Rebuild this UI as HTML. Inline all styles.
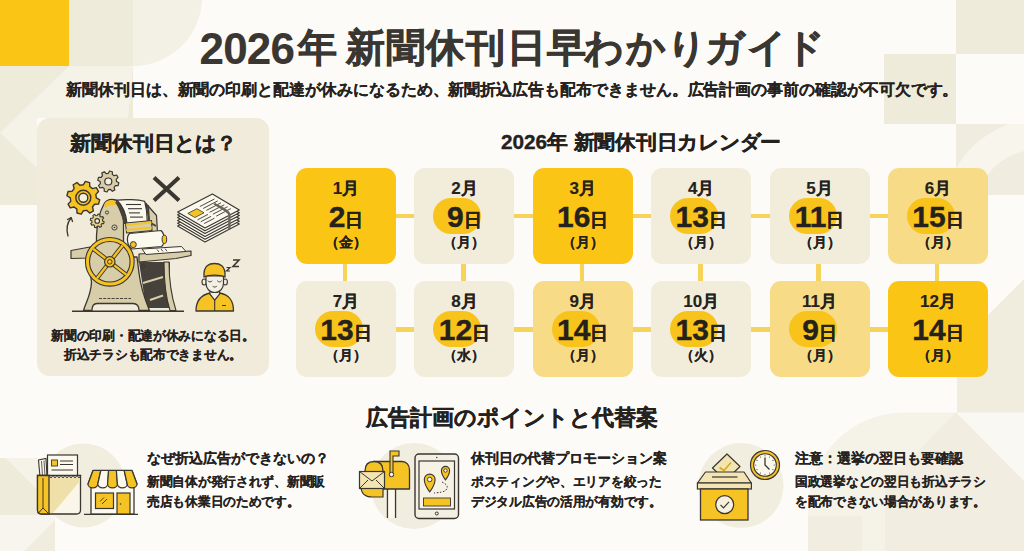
<!DOCTYPE html>
<html lang="ja">
<head>
<meta charset="utf-8">
<style>
html,body{margin:0;padding:0;}
body{width:1024px;height:551px;position:relative;overflow:hidden;background:#FCFBF7;font-family:"Liberation Sans",sans-serif;color:#25211d;font-weight:bold;}
.a,.t .d{-webkit-text-stroke:0.35px currentColor;}
.t .m,.t .w{-webkit-text-stroke:0.15px currentColor;}
.sm{-webkit-text-stroke:0.1px currentColor !important;}
.a{position:absolute;white-space:nowrap;}
.bg{position:absolute;left:0;top:0;}
.t{position:absolute;width:100px;height:96px;border-radius:11px;}
.t.s{background:#FAC515;}
.t.b{background:#F2EDDB;}
.t.l{background:#F7DB86;}
.blob{position:absolute;left:19px;top:30px;width:48px;height:36px;border-radius:18px;background:#F8C41C;}
.m{position:absolute;left:0;width:100px;text-align:center;top:12px;font-size:17px;line-height:17px;}
.d{position:absolute;left:0;width:100px;text-align:center;top:34px;font-size:30px;line-height:30px;}
.d span{font-size:18px;vertical-align:1.5px;}
.w{position:absolute;left:0;width:100px;text-align:center;top:67px;font-size:14px;line-height:14px;}
.hl{position:absolute;background:#F6D35A;height:4.5px;}
.vl{position:absolute;background:#F6D35A;width:4.5px;}
</style>
</head>
<body>
<!-- background decorations -->
<svg class="bg" width="1024" height="551" viewBox="0 0 1024 551">
  <rect x="0" y="0" width="69" height="66" fill="#FAC515"/>
  <rect x="69" y="0" width="64" height="66" fill="#EFEBDB"/>
  <path d="M133 0 L202 0 A69 69 0 0 1 133 66 Z" fill="#F3F0E5"/>
  <path d="M0 66 L133 66 L133 118 L37 118 L37 205 L0 205 Z" fill="#EFEBDB"/>
  <path d="M69 66 L133 66 L128 118 L37 118 L37 168 L0 133 Z" fill="#F5F2E8"/>
  <rect x="956" y="0" width="68" height="54" fill="#EFEBDB"/>
  <rect x="884" y="54" width="72" height="70" fill="#EFEBDB"/>
  <clipPath id="cc"><rect x="956" y="124" width="68" height="71"/></clipPath>
  <g clip-path="url(#cc)"><rect x="956" y="124" width="68" height="71" fill="#F0ECDF"/><circle cx="1040" cy="215" r="96" fill="#F7F5EC"/><circle cx="1040" cy="215" r="66" fill="#F0ECDF"/></g>
  <path d="M1024 279 L957 346 L957 413 L1024 413 Z" fill="#F0ECDE"/>
  
  <path d="M808 551 L808 508 A96 96 0 0 1 904 412.6 L1024 412.6 L1024 551 Z" fill="#F5F2E8"/>
  <path d="M956 412.6 L1024 412.6 L1024 481 Z" fill="#FAF8F2"/>
  <path d="M956 412.6 L1024 481 L1024 551 L885 551 L885 484 Z" fill="#F1EDE0"/>
  <rect x="808" y="516" width="54" height="35" fill="#F1EDE0"/>
  <path d="M0 458 L6 458 L55 507 L55 515 L0 515 Z" fill="#EFEBDB"/><path d="M6 458 L55 458 L55 507 Z" fill="#F5F2E8"/>
  <path d="M0 515 L55 515 L55 520 L24 551 L0 551 Z" fill="#F7F5EE"/><path d="M24 551 L55 520 L55 551 Z" fill="#F0ECDE"/>
</svg>

<div class="a" id="t1" style="-webkit-text-stroke:0.1px currentColor;left:199.5px;top:26.5px;font-size:44px;line-height:44px;color:#3A3631;letter-spacing:-0.8px">2026</div><div class="a" id="t1b" style="-webkit-text-stroke:0.6px #3A3631;left:297.5px;top:28px;font-size:39px;line-height:39px;color:#3A3631;">年</div><div class="a" id="t2" style="-webkit-text-stroke:0.6px #3A3631;left:345.5px;top:28px;font-size:39px;line-height:39px;color:#3A3631;letter-spacing:1.3px">新聞休刊日早<span style="margin-left:-3px">わかり</span><span style="margin-left:-3px">ガイ</span><span style="margin-left:-3px">ド</span></div>
<div class="a sm" style="-webkit-text-stroke:0.1px currentColor !important;left:66px;top:82px;font-size:16px;line-height:16px;transform:scaleX(0.996);transform-origin:0 0;color:#25211d">新聞休刊日は、新聞の印刷と配達が休みになるため、新聞折込広告も配布できません。広告計画の事前の確認が不可欠です。</div>

<!-- left card -->
<div class="a" style="left:37px;top:118px;width:232px;height:258px;border-radius:13px;background:#F0EBDA"></div>
<div class="a" style="left:70px;top:133px;font-size:20px;line-height:20px;transform:scaleX(1.045);transform-origin:0 0">新聞休刊日とは？</div>
<div class="a sm" style="left:37px;top:326px;width:232px;text-align:center;font-size:13px;line-height:19px;transform:scaleX(0.978);transform-origin:50% 0">新聞の印刷・配達が休みになる日。<br>折込チラシも配布できません。</div>

<svg class="bg" width="1024" height="551" viewBox="0 0 1024 551" style="z-index:1"><path d="M96.30 197.80 L99.67 199.87 L98.54 204.11 L94.59 204.24 L92.49 206.99 L93.41 210.84 L89.61 213.04 L86.73 210.34 L83.30 210.80 L81.23 214.17 L76.99 213.04 L76.86 209.09 L74.11 206.99 L70.26 207.91 L68.06 204.11 L70.76 201.23 L70.30 197.80 L66.93 195.73 L68.06 191.49 L72.01 191.36 L74.11 188.61 L73.19 184.76 L76.99 182.56 L79.87 185.26 L83.30 184.80 L85.37 181.43 L89.61 182.56 L89.74 186.51 L92.49 188.61 L96.34 187.69 L98.54 191.49 L95.84 194.37 Z" fill="#F6C324" stroke="#3A3630" stroke-width="1.4" stroke-linejoin="round"/><circle cx="83.3" cy="197.8" r="7.5" fill="none" stroke="#3A3630" stroke-width="1.4"/><circle cx="83.3" cy="197.8" r="4.5" fill="#F3EFE3" stroke="#3A3630" stroke-width="1.4"/><path d="M116.50 181.50 L118.82 182.83 L118.09 185.56 L115.42 185.56 L114.10 187.30 L114.80 189.88 L112.36 191.29 L110.46 189.41 L108.30 189.70 L106.97 192.02 L104.24 191.29 L104.24 188.62 L102.50 187.30 L99.92 188.00 L98.51 185.56 L100.39 183.66 L100.10 181.50 L97.78 180.17 L98.51 177.44 L101.18 177.44 L102.50 175.70 L101.80 173.12 L104.24 171.71 L106.14 173.59 L108.30 173.30 L109.63 170.98 L112.36 171.71 L112.36 174.38 L114.10 175.70 L116.68 175.00 L118.09 177.44 L116.21 179.34 Z" fill="#D8CDA9" stroke="#3A3630" stroke-width="1.2" stroke-linejoin="round"/><circle cx="108.3" cy="181.5" r="3.5" fill="#F3EFE3" stroke="#3A3630" stroke-width="1.2"/><path d="M68 236 C66 229 67 223 71 218" fill="none" stroke="#3A3630" stroke-width="1.3" stroke-linecap="round"/><path d="M67.5 219.5 L71.2 217.6 L72.5 221.5" fill="none" stroke="#3A3630" stroke-width="1.3" stroke-linecap="round" stroke-linejoin="round"/><path d="M154 177.5 L179 200.5 M179 177.5 L154 200.5" stroke="#3A3630" stroke-width="4" stroke-linecap="butt"/><path d="M177.6 226.0 L212.4 208.0 L239.3 224.0 L205.0 242.0 Z" fill="#FBF8EE" stroke="#3A3630" stroke-width="1.15" stroke-linejoin="round"/><path d="M177.6 223.2 L212.4 205.2 L239.3 221.2 L205.0 239.2 Z" fill="#FBF8EE" stroke="#3A3630" stroke-width="1.15" stroke-linejoin="round"/><path d="M177.6 220.4 L212.4 202.4 L239.3 218.4 L205.0 236.4 Z" fill="#FBF8EE" stroke="#3A3630" stroke-width="1.15" stroke-linejoin="round"/><path d="M177.6 217.6 L212.4 199.6 L239.3 215.6 L205.0 233.6 Z" fill="#FBF8EE" stroke="#3A3630" stroke-width="1.15" stroke-linejoin="round"/><path d="M177.6 214.8 L212.4 196.8 L239.3 212.8 L205.0 230.8 Z" fill="#FBF8EE" stroke="#3A3630" stroke-width="1.15" stroke-linejoin="round"/><path d="M177.6 212.0 L212.4 194.0 L239.3 210.0 L205.0 228.0 Z" fill="#FBF8EE" stroke="#3A3630" stroke-width="1.15" stroke-linejoin="round"/><path d="M187.8 213.4 L196.9 208.7 L204.0 212.8 L194.9 217.5 Z" fill="#F6C324" stroke="#3A3630" stroke-width="0.8"/><path d="M199.8 206.6 L214.4 199.0" stroke="#3A3630" stroke-width="0.9"/><path d="M203.1 208.5 L217.7 200.9" stroke="#3A3630" stroke-width="0.9"/><path d="M206.4 210.4 L221.0 202.8" stroke="#3A3630" stroke-width="0.9"/><path d="M209.6 212.3 L224.3 204.8" stroke="#3A3630" stroke-width="0.9"/><path d="M212.9 214.2 L227.6 206.7" stroke="#3A3630" stroke-width="0.9"/><path d="M216.2 216.2 L230.8 208.6" stroke="#3A3630" stroke-width="0.9"/><path d="M197.5 219.8 L208.0 214.4" stroke="#3A3630" stroke-width="0.9"/><path d="M200.8 221.7 L211.2 216.3" stroke="#3A3630" stroke-width="0.9"/><path d="M204.1 223.6 L214.5 218.2" stroke="#3A3630" stroke-width="0.9"/><path d="M214.3 203.6 C218.3 206.6 230.4 211.4 229.4 215.4 L229.4 229.4" fill="none" stroke="#6b655c" stroke-width="2.4"/><path d="M139 262 L170 262 L170 308 L146 308 Z" fill="#46413A"/><path d="M143 283 L163 277 M150 300 L163 295.5" stroke="#D8CDA9" stroke-width="2.2"/><path d="M164 262 L169 262 C169 280 172 298 176 310.5 L170 310.5 C166 298 164 280 164 262 Z" fill="#D8CDA9" stroke="#3A3630" stroke-width="1.1" stroke-linejoin="round"/><path d="M88 257 L137 257 L139 273 C141 290 146 302 149.5 310.5 L139 310.5 C139 306 137 303.5 133 303.5 L97 303.5 C93 303.5 92 306 92 310.5 L83.5 310.5 C86 302 91 295 91.5 282 Z" fill="#D8CDA9" stroke="#3A3630" stroke-width="1.3" stroke-linejoin="round"/><path d="M99 298.5 L131 298.5" stroke="#3A3630" stroke-width="0.9" stroke-dasharray="3 1.2"/><circle cx="143" cy="266.5" r="1.8" fill="none" stroke="#3A3630" stroke-width="0.9"/><path d="M96.5 257 L96.5 236 C97 222 100 211 104 204 C106 200.5 108 199.5 112 199.5 L116 200 L123.5 219 L123.5 257 Z" fill="#D8CDA9" stroke="#3A3630" stroke-width="1.3" stroke-linejoin="round"/><path d="M104.5 204 C106 201 108 200 113 200 L118 205 C112 205 108 205.5 105 208 Z" fill="#F6C324"/><circle cx="107" cy="212.5" r="1.6" fill="none" stroke="#3A3630" stroke-width="0.9"/><circle cx="114.5" cy="227.5" r="2.6" fill="none" stroke="#3A3630" stroke-width="0.9"/><circle cx="114.5" cy="227.5" r="0.8" fill="#3A3630"/><path d="M115 202 L128 203 L128 224 L123.5 224 L121 212 Z" fill="#46413A"/><path d="M145.5 203 L156.5 215.5 L157.5 233 L150 233 L149 218 Z" fill="#D8CDA9" stroke="#3A3630" stroke-width="1.2" stroke-linejoin="round"/><path d="M148 205 L149 222 L156 226" fill="none" stroke="#46413A" stroke-width="2"/><path d="M117 200.2 C125 199 138 199.5 144.7 201.4 C146.5 208 147.3 215 147.3 221.8 L127 223.5 C126 213 122 205 117 200.2 Z" fill="#FBF8EE" stroke="#3A3630" stroke-width="1.2"/><path d="M126 204.5 L141 204.5" stroke="#3A3630" stroke-width="1.1"/><path d="M128 208.7 L142 208.7" stroke="#3A3630" stroke-width="1.1"/><path d="M129 212.9 L140 212.9" stroke="#3A3630" stroke-width="1.1"/><path d="M130 217.1 L143 217.1" stroke="#3A3630" stroke-width="1.1"/><path d="M125.5 223 L151.5 220.5 L152 230.5 L126.5 233 Z" fill="#D8CDA9" stroke="#3A3630" stroke-width="1.1"/><path d="M126 225 L151.5 222.5 M126.3 230 L151.8 227.5" stroke="#F6C324" stroke-width="2"/><path d="M129.5 233.5 L161 230.5 C165 234 165.5 243 161.5 246.5 L132 249 C127 246 126 237 129.5 233.5 Z" fill="#FBF8EE" stroke="#3A3630" stroke-width="1.2"/><ellipse cx="164.4" cy="239.3" rx="2.3" ry="4.2" fill="#F6C324" stroke="#3A3630" stroke-width="1"/><ellipse cx="133.3" cy="244.6" rx="3" ry="3" fill="#F6C324" stroke="#3A3630" stroke-width="1"/><path d="M71 250.5 L90 247 L90 258 L71 258.5 Z" fill="#D8CDA9" stroke="#3A3630" stroke-width="1.2" stroke-linejoin="round"/><path d="M139 254 L191 251 L191 255.5 L176 258.5 L139 262 Z" fill="#D8CDA9" stroke="#3A3630" stroke-width="1.2" stroke-linejoin="round"/><path d="M142 249 L181.5 246.5 L186 251.5 L146 254.5 Z" fill="#FBF8EE" stroke="#3A3630" stroke-width="1"/><path d="M157 249.5 L159 252 M161 249 L163 251.5 M165 248.7 L167 251.2" stroke="#3A3630" stroke-width="0.9"/><circle cx="109.8" cy="261.8" r="22.3" fill="#D8CDA9" stroke="#3A3630" stroke-width="5.2"/><circle cx="109.8" cy="261.8" r="22.3" fill="none" stroke="#F6C324" stroke-width="3.0"/><path d="M93.4 249.0 L126.2 274.6" stroke="#3A3630" stroke-width="4.2"/><path d="M122.6 245.4 L97.0 278.2" stroke="#3A3630" stroke-width="4.2"/><path d="M93.4 249.0 L126.2 274.6" stroke="#F6C324" stroke-width="2.4"/><path d="M122.6 245.4 L97.0 278.2" stroke="#F6C324" stroke-width="2.4"/><circle cx="109.8" cy="261.8" r="5.2" fill="#F6C324" stroke="#3A3630" stroke-width="1.2"/><circle cx="109.8" cy="261.8" r="2.3" fill="none" stroke="#3A3630" stroke-width="1"/><path d="M102.60 220.90 L104.14 221.78 L103.67 223.58 L101.89 223.58 L101.02 224.72 L101.49 226.43 L99.88 227.37 L98.62 226.11 L97.20 226.30 L96.32 227.84 L94.52 227.37 L94.52 225.59 L93.38 224.72 L91.67 225.19 L90.73 223.58 L91.99 222.32 L91.80 220.90 L90.26 220.02 L90.73 218.22 L92.51 218.22 L93.38 217.08 L92.91 215.37 L94.52 214.43 L95.78 215.69 L97.20 215.50 L98.08 213.96 L99.88 214.43 L99.88 216.21 L101.02 217.08 L102.73 216.61 L103.67 218.22 L102.41 219.48 Z" fill="#E3CF8E" stroke="#3A3630" stroke-width="1.1" stroke-linejoin="round"/><circle cx="97.2" cy="220.9" r="2.3" fill="#F3EFE3" stroke="#3A3630" stroke-width="1.1"/><path d="M72 311.2 L184 311.2" stroke="#3A3630" stroke-width="1.4"/><path d="M196 311 C196 300 201 295 210 293 L220 293 C229 295 233.5 300 233.5 311 Z" fill="#F6C324" stroke="#3A3630" stroke-width="1.3" stroke-linejoin="round"/><path d="M209 293 L214.7 300 L220.5 293 M214.7 300 L214.7 311 M222 305.5 L226 305.5" fill="none" stroke="#3A3630" stroke-width="1.1"/><path d="M210 289 L210 294 L214.7 300 L219.5 294 L219.5 289 Z" fill="#F3EFE3" stroke="#3A3630" stroke-width="1.1"/><ellipse cx="204.2" cy="282" rx="2.2" ry="3" fill="#F3EFE3" stroke="#3A3630" stroke-width="1.1"/><ellipse cx="225.2" cy="282" rx="2.2" ry="3" fill="#F3EFE3" stroke="#3A3630" stroke-width="1.1"/><path d="M206 276 L206 283 C206 289 210 292.5 214.7 292.5 C219.5 292.5 223.5 289 223.5 283 L223.5 276 Z" fill="#F3EFE3" stroke="#3A3630" stroke-width="1.2"/><path d="M204 277 C203 265 210 263.5 214.5 263.5 C219 263.5 226 265 225 277 C220 274.5 209 274.5 204 277 Z" fill="#F6C324" stroke="#3A3630" stroke-width="1.3" stroke-linejoin="round"/><path d="M208 281 C209 282.3 211 282.3 212 281 M217.5 281 C218.5 282.3 220.5 282.3 221.5 281 M213 286.5 C214 287.3 215.5 287.3 216.5 286.5" fill="none" stroke="#3A3630" stroke-width="0.9" stroke-linecap="round"/><path d="M226.5 267.5 L230 267.5 L226.5 271 L230 271" fill="none" stroke="#3A3630" stroke-width="1.2"/><path d="M233 260 L239 260 L233 266.5 L239 266.5" fill="none" stroke="#3A3630" stroke-width="1.6"/><circle cx="83.5" cy="485.4" r="42" fill="#F1EDDF"/><circle cx="414" cy="486" r="43" fill="#F1EDDF"/><circle cx="741" cy="485.5" r="42.5" fill="#F1EDDF"/><path d="M38.5 460 L46 458.5 L47 477 L40 477 Z" fill="#FBF8EE" stroke="#3A3630" stroke-width="1.1"/><path d="M41.5 461 L42.5 476 M44 460.5 L45 476" stroke="#3A3630" stroke-width="0.8"/><rect x="47.5" y="455" width="30" height="23" fill="#FBF8EE" stroke="#3A3630" stroke-width="1.2"/><rect x="51.5" y="460" width="6" height="6" fill="#F6C324" stroke="#3A3630" stroke-width="0.9"/><path d="M60 461 L73 461 M60 464.5 L73 464.5 M51.5 470 L73 470" stroke="#3A3630" stroke-width="1"/><path d="M37.5 475.5 L80.5 475.5 L80.5 510 C80.5 512.5 79 514 76.5 514 L41.5 514 C39 514 37.5 512.5 37.5 510 Z" fill="#FAF6EA" stroke="#3A3630" stroke-width="1.3"/><path d="M49 477 L80 477 L80 481 L53 513 L49 513 Z" fill="#EFDFA8"/><path d="M49 475.5 L51.0 478 L53.0 475.5 L55.0 478 L57.0 475.5 L59.0 478 L61.0 475.5 L63.0 478 L65.0 475.5 L67.0 478 L69.0 475.5 L71.0 478 L73.0 475.5 L75.0 478 L77.0 475.5 L79.0 478 L81.0 475.5" fill="none" stroke="#3A3630" stroke-width="0.9"/><path d="M37.5 475.5 L49 475.5 L49 514 L41.5 514 C39 514 37.5 512.5 37.5 510 Z" fill="#F6C324" stroke="#3A3630" stroke-width="1.3"/><path d="M43 478 L43 508 M38.5 513 L43 508 L48 513" fill="none" stroke="#3A3630" stroke-width="1"/><path d="M84 514.3 L138 514.3" stroke="#3A3630" stroke-width="1.3"/><rect x="91" y="484" width="43" height="30" fill="#FBF8EE" stroke="#3A3630" stroke-width="1.3"/><rect x="95.5" y="493" width="18" height="15.5" fill="#F6C324" stroke="#3A3630" stroke-width="1.2"/><path d="M100 501.5 L104 497.5 M102 504 L107 499" stroke="#3A3630" stroke-width="0.9"/><rect x="117" y="493" width="13" height="21" fill="#F6C324" stroke="#3A3630" stroke-width="1.2"/><circle cx="120.5" cy="504" r="0.8" fill="#3A3630"/><path d="M93 470.5 L132 470.5 L137 484 L88 484 Z" fill="#FBF8EE" stroke="#3A3630" stroke-width="1.3" stroke-linejoin="round"/><path d="M93 470.5 L100.8 470.5 L97.8 484 A4.90 3.92 0 0 1 88 484 Z" fill="#F6C324" stroke="#3A3630" stroke-width="1.2" stroke-linejoin="round"/><path d="M100.8 470.5 L108.6 470.5 L107.6 484 A4.90 3.92 0 0 1 97.8 484 Z" fill="#FBF8EE" stroke="#3A3630" stroke-width="1.2" stroke-linejoin="round"/><path d="M108.6 470.5 L116.4 470.5 L117.4 484 A4.90 3.92 0 0 1 107.6 484 Z" fill="#F6C324" stroke="#3A3630" stroke-width="1.2" stroke-linejoin="round"/><path d="M116.4 470.5 L124.2 470.5 L127.2 484 A4.90 3.92 0 0 1 117.4 484 Z" fill="#FBF8EE" stroke="#3A3630" stroke-width="1.2" stroke-linejoin="round"/><path d="M124.2 470.5 L132 470.5 L137 484 A4.90 3.92 0 0 1 127.2 484 Z" fill="#F6C324" stroke="#3A3630" stroke-width="1.2" stroke-linejoin="round"/><path d="M387.5 489 L387.5 518 M395.5 489 L395.5 518" stroke="#3A3630" stroke-width="1.2"/><rect x="388" y="489" width="7" height="29" fill="#FBF8EE"/><path d="M387.5 489 L387.5 518 M395.5 489 L395.5 518" stroke="#3A3630" stroke-width="1.2"/><path d="M374 461.5 L402 461.5 C406.5 461.5 409.5 465 409.5 470 L409.5 489 L374 489 Z" fill="#F6C324" stroke="#3A3630" stroke-width="1.3" stroke-linejoin="round"/><path d="M374 461.5 C368 461.5 365 465 365 471 L365 489 L383 489 L383 471 C383 465 380 461.5 374 461.5 Z" fill="#F6C324" stroke="#3A3630" stroke-width="1.3"/><path d="M361 487 C361 493 365 497 372 497 L383 497 L383 487 Z" fill="#F6C324" stroke="#3A3630" stroke-width="1.2"/><rect x="359.5" y="471.5" width="25" height="17" fill="#F3E4B3" stroke="#3A3630" stroke-width="1.2"/><path d="M359.5 471.5 L372 481 L384.5 471.5 M359.5 488.5 L368 480 M384.5 488.5 L376 480" fill="none" stroke="#3A3630" stroke-width="1"/><path d="M390 476 L390 451 L399 451 L399 456 L393 456 L393 476 Z" fill="#F6C324" stroke="#3A3630" stroke-width="1.1"/><circle cx="391.5" cy="474.5" r="2.2" fill="#FBF8EE" stroke="#3A3630" stroke-width="1"/><rect x="415" y="454" width="43.5" height="64.5" rx="4" fill="#F3EFE3" stroke="#3A3630" stroke-width="1.4"/><rect x="419" y="461" width="35.5" height="48" fill="#F6F2E6" stroke="#3A3630" stroke-width="1.2"/><circle cx="436.8" cy="513.5" r="1.5" fill="none" stroke="#3A3630" stroke-width="1"/><circle cx="436.8" cy="457.5" r="0.7" fill="#3A3630"/><rect x="423.5" y="498" width="27" height="8" fill="#F6C324" stroke="#3A3630" stroke-width="0.9"/><path d="M429.7 491.92 C426.46 487.6 424.3 483.82 424.3 479.5 A5.4 5.4 0 0 1 435.09999999999997 479.5 C435.09999999999997 483.82 432.94 487.6 429.7 491.92 Z" fill="#F6C324" stroke="#3A3630" stroke-width="1.1"/><circle cx="429.7" cy="479.5" r="2.27" fill="#FBF8EE" stroke="#3A3630" stroke-width="0.9"/><path d="M445.5 479.93 C443.04 476.65 441.4 473.78 441.4 470.5 A4.1 4.1 0 0 1 449.6 470.5 C449.6 473.78 447.96 476.65 445.5 479.93 Z" fill="#F6C324" stroke="#3A3630" stroke-width="1.1"/><circle cx="445.5" cy="470.5" r="1.72" fill="#FBF8EE" stroke="#3A3630" stroke-width="0.9"/><path d="M442 482 C446 484 449 486 446 490 C444 492 440 492.5 434 493" fill="none" stroke="#3A3630" stroke-width="1" stroke-dasharray="1.6 1.6"/><path d="M712.5 468 L727 454 L740 466.5 L725.5 480.5 Z" fill="#F3E4B3" stroke="#3A3630" stroke-width="1.2" stroke-linejoin="round"/><path d="M719.5 467.5 L724 470.5 L731 462.5" fill="none" stroke="#D9A90E" stroke-width="1.6"/><path d="M697.5 483 L705.5 472 L744 472 L751.3 483 Z" fill="#F3E4B3" stroke="#3A3630" stroke-width="1.2" stroke-linejoin="round"/><path d="M712 477 L737.5 477" stroke="#3A3630" stroke-width="1.2"/><rect x="697.4" y="483" width="54" height="6" fill="#F3E4B3" stroke="#3A3630" stroke-width="1.2"/><rect x="700.5" y="489" width="47.5" height="31" fill="#F6C324" stroke="#3A3630" stroke-width="1.3"/><circle cx="724.7" cy="504.6" r="9" fill="#F6F0DC" stroke="#3A3630" stroke-width="1.2"/><path d="M720.5 504.8 L723.5 507.8 L729 501.8" fill="none" stroke="#3A3630" stroke-width="1.2"/><circle cx="765" cy="465" r="14.5" fill="#F6C324" stroke="#3A3630" stroke-width="1.2"/><circle cx="765" cy="465" r="11.3" fill="#FBF8EE" stroke="#3A3630" stroke-width="1.1"/><circle cx="774.20" cy="465.00" r="0.55" fill="#3A3630"/><circle cx="772.97" cy="469.60" r="0.55" fill="#3A3630"/><circle cx="769.60" cy="472.97" r="0.55" fill="#3A3630"/><circle cx="765.00" cy="474.20" r="0.55" fill="#3A3630"/><circle cx="760.40" cy="472.97" r="0.55" fill="#3A3630"/><circle cx="757.03" cy="469.60" r="0.55" fill="#3A3630"/><circle cx="755.80" cy="465.00" r="0.55" fill="#3A3630"/><circle cx="757.03" cy="460.40" r="0.55" fill="#3A3630"/><circle cx="760.40" cy="457.03" r="0.55" fill="#3A3630"/><circle cx="765.00" cy="455.80" r="0.55" fill="#3A3630"/><circle cx="769.60" cy="457.03" r="0.55" fill="#3A3630"/><circle cx="772.97" cy="460.40" r="0.55" fill="#3A3630"/><path d="M765 457.5 L765 465 L769.5 469.5" fill="none" stroke="#3A3630" stroke-width="1.3"/></svg>
<!-- calendar -->
<div class="a" style="left:501px;top:133px;font-size:20px;line-height:19px;transform:scaleX(1.037);transform-origin:0 0">2026年 新聞休刊日カレンダー</div>

<div class="hl" style="left:296px;top:213.5px;width:692px"></div>
<div class="hl" style="left:296px;top:327px;width:692px"></div>
<div class="vl" style="left:342.8px;top:240px;height:60px"></div>
<div class="vl" style="left:461.2px;top:240px;height:60px"></div>
<div class="vl" style="left:579.5999999999999px;top:240px;height:60px"></div>
<div class="vl" style="left:698.0px;top:240px;height:60px"></div>
<div class="vl" style="left:816.4px;top:240px;height:60px"></div>
<div class="vl" style="left:934.8px;top:240px;height:60px"></div>
<div class="t s" style="left:296px;top:167.5px"><div class="m">1月</div><div class="d">2<span>日</span></div><div class="w">（金）</div></div>
<div class="t b" style="left:414.4px;top:167.5px"><div class="blob"></div><div class="m">2月</div><div class="d">9<span>日</span></div><div class="w">（月）</div></div>
<div class="t s" style="left:532.8px;top:167.5px"><div class="m">3月</div><div class="d">16<span>日</span></div><div class="w">（月）</div></div>
<div class="t b" style="left:651.2px;top:167.5px"><div class="blob"></div><div class="m">4月</div><div class="d">13<span>日</span></div><div class="w">（月）</div></div>
<div class="t b" style="left:769.6px;top:167.5px"><div class="blob"></div><div class="m">5月</div><div class="d">11<span>日</span></div><div class="w">（月）</div></div>
<div class="t l" style="left:888px;top:167.5px"><div class="blob"></div><div class="m">6月</div><div class="d">15<span>日</span></div><div class="w">（月）</div></div>
<div class="t b" style="left:296px;top:281px"><div class="blob"></div><div class="m">7月</div><div class="d">13<span>日</span></div><div class="w">（月）</div></div>
<div class="t b" style="left:414.4px;top:281px"><div class="blob"></div><div class="m">8月</div><div class="d">12<span>日</span></div><div class="w">（水）</div></div>
<div class="t l" style="left:532.8px;top:281px"><div class="blob"></div><div class="m">9月</div><div class="d">14<span>日</span></div><div class="w">（月）</div></div>
<div class="t b" style="left:651.2px;top:281px"><div class="blob"></div><div class="m">10月</div><div class="d">13<span>日</span></div><div class="w">（火）</div></div>
<div class="t l" style="left:769.6px;top:281px"><div class="blob"></div><div class="m">11月</div><div class="d">9<span>日</span></div><div class="w">（月）</div></div>
<div class="t s" style="left:888px;top:281px"><div class="m">12月</div><div class="d">14<span>日</span></div><div class="w">（月）</div></div>

<div class="a" style="left:366px;top:407px;font-size:22px;line-height:22px">広告計画のポイントと代替案</div>

<div class="a sm" style="left:147px;top:451px;font-size:14px;line-height:14px">なぜ折込広告ができないの？</div>
<div class="a sm" style="left:147px;top:472px;font-size:12.8px;line-height:20.3px;transform:scaleX(0.978);transform-origin:0 0">新聞自体が発行されず、新聞販<br>売店も休業日のためです。</div>

<div class="a sm" style="left:471px;top:451px;font-size:14px;line-height:14px">休刊日の代替プロモーション案</div>
<div class="a sm" style="left:471px;top:472px;font-size:12.8px;line-height:20.3px;transform:scaleX(0.978);transform-origin:0 0">ポスティングや、エリアを絞った<br>デジタル広告の活用が有効です。</div>

<div class="a sm" style="left:795px;top:451px;font-size:14px;line-height:14px">注意：選挙の翌日も要確認</div>
<div class="a sm" style="left:795px;top:472px;font-size:12.8px;line-height:20.3px;transform:scaleX(0.978);transform-origin:0 0">国政選挙などの翌日も折込チラシ<br>を配布できない場合があります。</div>

</body>
</html>
